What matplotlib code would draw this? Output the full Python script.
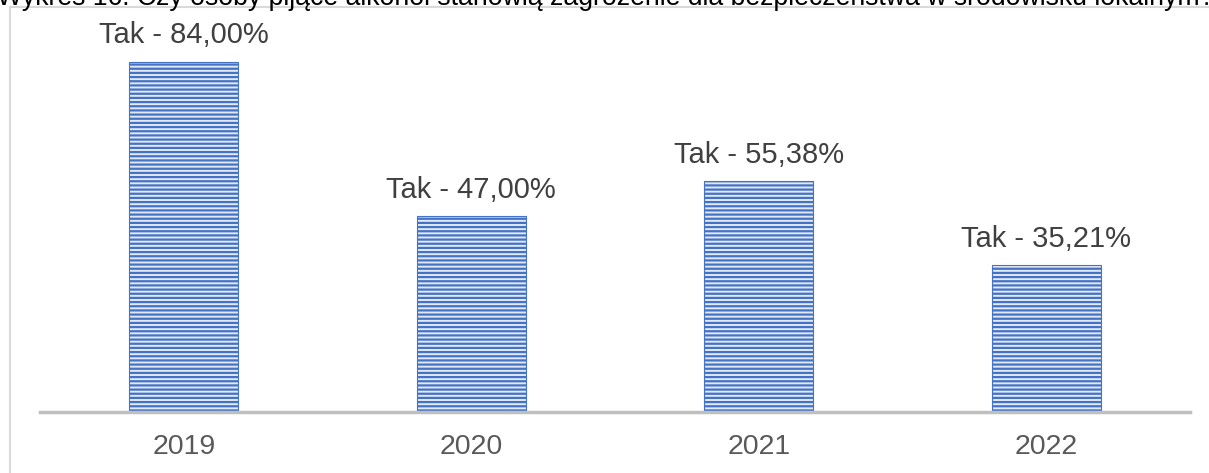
import matplotlib
matplotlib.use("Agg")
import matplotlib.pyplot as plt
from matplotlib.patches import Rectangle

plt.rcParams['font.family'] = ['Liberation Sans', 'DejaVu Sans']
plt.rcParams['hatch.linewidth'] = 1.6

# data
years = ["2019", "2020", "2021", "2022"]
tak_pct = [84.00, 47.00, 55.38, 35.21]
title = ("Wykres 16. Czy osoby pijące alkohol stanowią zagrożenie "
         "dla bezpieczeństwa w środowisku lokalnym?")

W, H = 1209, 473
fig = plt.figure(figsize=(W / 100, H / 100), dpi=100)

# frame of the chart area (cut by the picture edge)
fig.patches.append(Rectangle((10 / W, -0.1), 1.2, 1 - 7 / H + 0.1,
                             transform=fig.transFigure, fill=False,
                             edgecolor="#d9d9d9", linewidth=1.5))

# half-visible caption above the frame, as in the source picture
fig.text(-3 / W, 1 - 5 / H, title, ha="left", va="baseline",
         fontsize=19.2, color="black")

ax = fig.add_axes([40 / W, (H - 412) / H, 1150 / W, 375 / H])
x = range(len(years))
bars = ax.bar(x, tak_pct, width=0.38, facecolor="#e3eaf7",
              edgecolor="#4472c4", hatch="----", linewidth=0.8)

for xi, v in zip(x, tak_pct):
    ax.annotate("Tak - " + f"{v:.2f}".replace(".", ",") + "%",
                (xi, v), xytext=(0, 9), textcoords="offset points",
                ha="center", va="bottom", fontsize=21, color="#404040")

ax.set_xlim(-0.5, 3.5)
ax.set_ylim(0, 90)
ax.set_xticks(list(x))
ax.set_xticklabels(years, fontsize=20.5, color="#595959")
ax.tick_params(axis="x", length=0, pad=16)
ax.set_yticks([])
for s in ["top", "right", "left"]:
    ax.spines[s].set_visible(False)
ax.spines["bottom"].set_color("#bfbfbf")
ax.spines["bottom"].set_linewidth(2.5)

fig.savefig("out.png", dpi=100)
